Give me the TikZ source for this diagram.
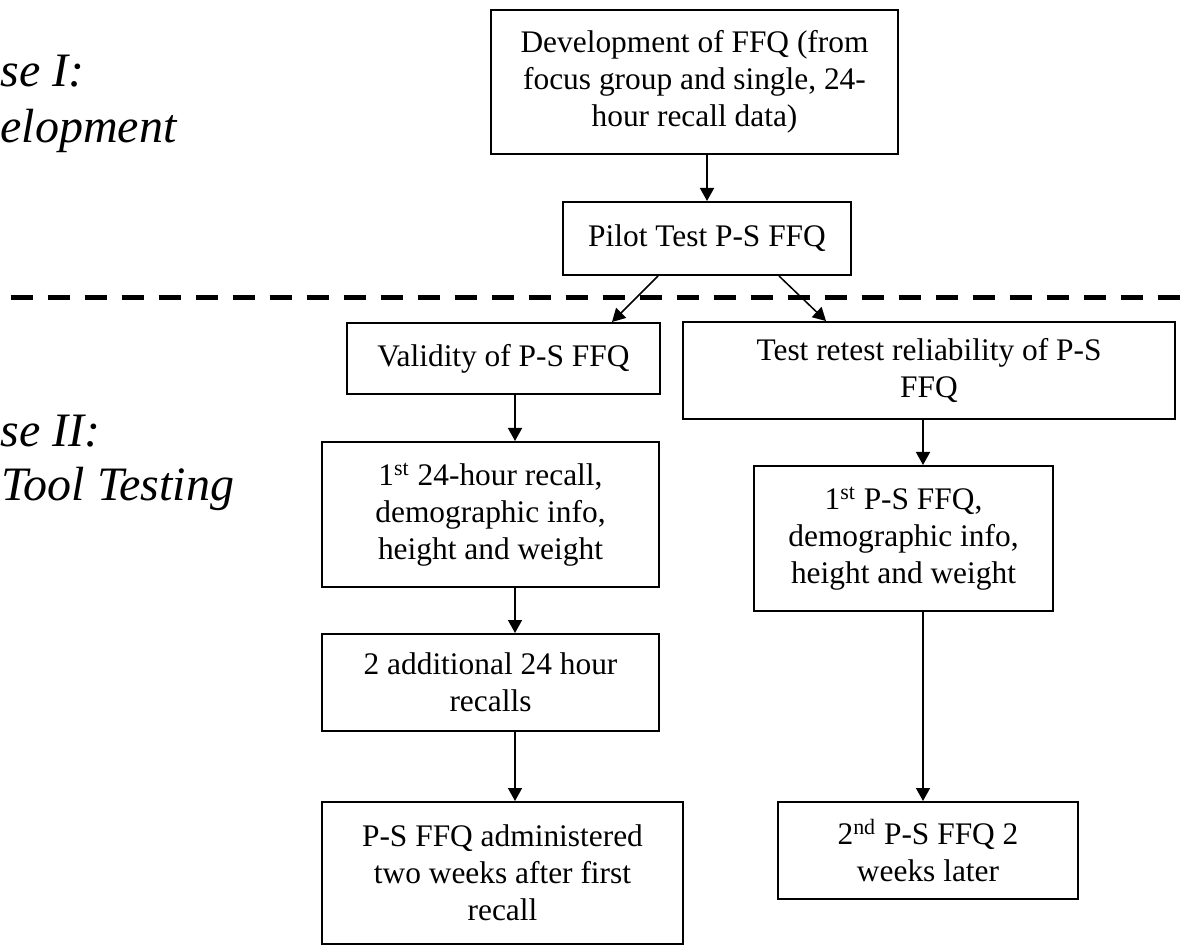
\documentclass[tikz,border=0pt]{standalone}
\usepackage{fontspec}
\setmainfont{Liberation Serif}
\usetikzlibrary{arrows.meta,calc}
\newcommand{\boxfont}{\fontsize{15.7}{18.5}\selectfont}
\newcommand{\phasefont}{\fontsize{24}{28}\selectfont\itshape}

\begin{document}
\begin{tikzpicture}[x=.5pt,y=-.5pt,
  box/.style={draw,line width=1pt,inner sep=0pt,align=center,font=\boxfont},
  arr/.style={-{Triangle[length=6.5pt,width=7pt]},line width=.75pt},
  phase/.style={anchor=base west,inner sep=0pt,font=\phasefont}]
\useasboundingbox (0,0) rectangle (1189,946);
% phase labels, cut at the left edge
\node[phase] (ph1a) at (0,87){se I:};
\node[phase] (ph1b) at (0,143){elopment};
\node[phase] (ph2a) at (0,447){se II:};
\node[phase] (ph2b) at (1,501){Tool Testing};
\draw[line width=2.5pt,dash pattern=on 11pt off 7.5pt] (10.5,298)--(1189,298);
% boxes
\node[box,minimum width=203.5pt,minimum height=72pt] (dev) at (694.5,82){Development of FFQ (from\\focus group and single, 24-\\hour recall data)};
\node[box,minimum width=144pt,minimum height=36.5pt] (pilot) at (707,238.5){Pilot Test P-S FFQ};
\node[box,minimum width=156.5pt,minimum height=35.5pt] (valid) at (503.5,358.5){Validity of P-S FFQ};
\node[box,minimum width=246pt,minimum height=48.5pt] (retest) at (929,370.5){Test retest reliability of P-S\\FFQ};
\node[box,minimum width=168.5pt,minimum height=72.5pt] (recall1) at (490.5,514.5){1\textsuperscript{st} 24-hour recall,\\demographic info,\\height and weight};
\node[box,minimum width=168.5pt,minimum height=48.5pt] (recall2) at (490.5,682.5){2 additional 24 hour\\recalls};
\node[box,minimum width=180.5pt,minimum height=71pt] (ffqadm) at (502.5,873){P-S FFQ administered\\two weeks after first\\recall};
\node[box,minimum width=149.5pt,minimum height=72.5pt] (ffq1) at (903.5,538.5){1\textsuperscript{st} P-S FFQ,\\demographic info,\\height and weight};
\node[box,minimum width=150pt,minimum height=48.5pt] (ffq2) at (928,850.5){2\textsuperscript{nd} P-S FFQ 2\\weeks later};
% arrows
\coordinate (lcol) at (515,0);
\coordinate (rcol) at (923,0);
\draw[arr] (dev.south -| pilot.north)--(pilot.north);
\draw[arr] ($(pilot.south)+(-49,0)$)--($(valid.north)+(108.5,0)$);
\draw[arr] ($(pilot.south)+(72,0)$)--($(retest.north)+(-103,0)$);
\draw[arr] (valid.south -| lcol)--(recall1.north -| lcol);
\draw[arr] (recall1.south -| lcol)--(recall2.north -| lcol);
\draw[arr] (recall2.south -| lcol)--(ffqadm.north -| lcol);
\draw[arr] (retest.south -| rcol)--(ffq1.north -| rcol);
\draw[arr] (ffq1.south -| rcol)--(ffq2.north -| rcol);
\end{tikzpicture}
\end{document}
